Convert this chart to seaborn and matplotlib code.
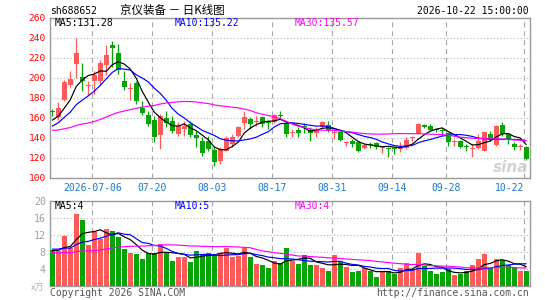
import numpy as np
import pandas as pd
import matplotlib
matplotlib.use("Agg")
import matplotlib.pyplot as plt
import seaborn as sns

# 80 daily sessions ending 2026-10-22
opens = [166, 161, 178, 193, 214, 201, 192, 197, 197, 213,
         233, 225, 197, 189, 195, 170, 163, 158, 143, 160,
         157, 144, 149, 154, 143, 137, 137, 128, 117, 127,
         134, 142, 155, 159, 156, 161, 156, 156, 163, 155,
         145, 148, 152, 148, 145, 151, 153, 145, 146, 135,
         137, 136, 130, 133.5, 135, 129.5, 130, 129.5, 129, 130,
         140, 145, 153, 152, 148.5, 148, 145, 135.5, 137, 131.5,
         128.5, 130, 127, 144, 133, 153, 144, 134, 131, 131]
highs = [169, 176, 198, 207, 240, 215, 197, 207, 218, 233,
         237, 234, 207, 195, 197, 177, 167, 162, 164, 167,
         162, 156, 157, 157, 147, 141, 142, 131, 131, 142,
         144, 152, 167, 161, 162, 162, 158, 164, 167, 157,
         149, 151, 155, 151, 151, 157, 157, 149, 147, 137,
         139, 137, 134, 136, 136, 132, 131, 131, 136, 141,
         142, 155, 154, 154, 150, 150, 146, 139, 138, 134,
         134, 144, 147, 147, 152.5, 156, 145, 136, 134, 132]
lows = [162, 158, 177, 191, 200, 187, 183, 184, 193, 203,
        211, 204, 188, 178, 174, 163, 152, 136, 129, 151,
        145, 142, 142, 141, 131, 122, 127, 112, 114, 127,
        131, 141, 149, 149, 152, 151, 149, 155, 159, 141,
        141, 141, 145, 137, 141, 150, 146, 139, 137, 132,
        131, 126, 129, 130, 129, 125, 121, 124, 126, 129,
        137, 144, 150, 147, 146, 143, 132, 132, 130, 127,
        121, 129, 127, 137, 132, 142, 134, 128, 128, 118]
closes = [165.5, 170, 196, 199, 225, 197, 193, 203, 215, 223,
          230, 208, 191, 190, 177, 165, 154, 141, 162, 155,
          147, 152, 152, 143, 140, 125, 129, 116, 129, 140,
          141, 151, 161, 154, 157, 154, 155, 163, 162, 144,
          146, 145, 151, 145, 149, 156, 148, 146, 138, 135.5,
          134, 127, 133, 133, 131, 130, 129, 129, 130, 138,
          140.5, 154, 151, 148, 148, 147, 136, 136, 131, 131,
          129, 137, 146, 139, 152, 144, 139, 131, 131.5, 119]
volume = [8.5, 8.3, 11.9, 9.1, 17.1, 15.6, 9.8, 12.8, 11.2, 13.5,
          13.1, 11.7, 8.7, 7.9, 7.7, 6.5, 7.9, 7.8, 10.0, 7.8,
          6.0, 7.0, 6.8, 5.8, 8.4, 7.4, 7.9, 7.3, 7.8, 9.1,
          6.8, 7.1, 9.1, 6.8, 5.3, 5.1, 4.3, 5.9, 5.5, 9.1,
          6.0, 5.3, 7.4, 5.1, 4.9, 4.4, 3.5, 7.4, 5.8, 4.5,
          3.3, 3.7, 4.3, 3.6, 2.3, 3.4, 3.7, 2.8, 4.2, 5.6,
          4.0, 7.9, 4.7, 3.5, 3.0, 3.3, 4.0, 2.6, 2.9, 3.5,
          4.9, 6.5, 7.7, 4.3, 6.5, 6.2, 5.0, 4.6, 3.7, 3.7]

# earlier sessions (not drawn), only used to warm up the moving averages
prev_close = [162, 158, 163, 160, 157, 161, 159,
              154, 150, 152, 147, 149, 148,
              138, 130, 124, 121, 118, 124, 128,
              136, 142, 147, 150, 152,
              150, 156, 157, 158]
prev_volume = [10.2, 9.6, 10.8, 9.9, 9.4, 10.5, 9.7,
               7.2, 6.5, 5.8, 6.1, 5.4, 5.9, 6.3, 5.5, 6.0, 5.7, 6.4, 6.8, 7.0,
               8.1, 9.6, 9.2, 8.4, 10.1, 8.0, 8.6, 7.9, 9.0]

tick_pos = [7, 17, 27, 37, 47, 57, 66, 79]
tick_labels = ["2026-07-06", "07-20", "08-03", "08-17", "08-31", "09-14", "09-28", "10-22"]

price_labels = ["MA5:131.28", "MA10:135.22", "MA30:135.57"]
vol_labels = ["MA5:4", "MA10:5", "MA30:4"]

RED = "#ff5a5a"
GREEN = "#06a406"
MA_COLORS = ["#000000", "#0000ff", "#ff00ff"]

sns.set_style("white")
plt.rcParams['font.family'] = ['DejaVu Sans Mono', 'Noto Sans CJK SC']

n = len(closes)
idx = np.arange(n)
o = np.array(opens); c = np.array(closes)
h = np.array(highs); l = np.array(lows)
up = c >= o
colors = np.where(up, RED, GREEN)

npv = len(prev_close)
close_all = pd.Series(prev_close + closes)
vol_all = pd.Series(prev_volume + volume)
price_ma = [close_all.rolling(w).mean().iloc[npv:].to_numpy() for w in (5, 10, 30)]
vol_ma = [vol_all.rolling(w).mean().iloc[npv:].to_numpy() for w in (5, 10, 30)]

W, H = 545, 300
fig = plt.figure(figsize=(W / 100, H / 100), dpi=100)
fig.patch.set_facecolor("white")


def px_axes(x0, y0, x1, y1):
    return fig.add_axes([x0 / W, 1 - y1 / H, (x1 - x0) / W, (y1 - y0) / H])


ax1 = px_axes(50, 17.5, 529.5, 177.5)
ax2 = px_axes(50, 201.3, 529.5, 286.3)

grid_x = [p - 0.33 for p in tick_pos]
for ax in (ax1, ax2):
    ax.set_xlim(-0.38, 79.55)
    ax.set_xticks(grid_x)
    ax.grid(axis="x", color="#a8a8a8", linestyle=(0, (4.5, 3.5)), lw=0.8)
    ax.grid(axis="y", color="#b4b4b4", linestyle=(0, (1, 2)), lw=0.8)
    ax.tick_params(length=0)
    for s in ax.spines.values():
        s.set_color("#9a9a9a")
        s.set_linewidth(1.0)
    ax.set_axisbelow(True)

# candles
ax1.vlines(idx, l, h, colors=colors, lw=0.9, zorder=2)
body_lo = np.minimum(o, c)
body_h = np.maximum(np.abs(c - o), 0.8)
ax1.bar(idx, body_h, bottom=body_lo, width=0.82, color=colors, lw=0, zorder=3)

for m, col in zip(price_ma, MA_COLORS):
    sns.lineplot(x=idx, y=m, color=col, lw=0.85, ax=ax1, zorder=4)

ax1.set_ylim(100, 260)
ax1.set_yticks(range(100, 261, 20))
ax1.set_yticklabels([str(v) for v in range(100, 261, 20)], color="#ff0000", fontsize=6.8)
ax1.tick_params(axis="y", pad=3)
ax1.set_xticklabels(tick_labels, color="#1a78d0", fontsize=7.0)
ax1.tick_params(axis="x", pad=4)
ax1.get_xticklabels()[-1].set_horizontalalignment("right")
ax1.set_xlabel(""); ax1.set_ylabel("")

# volume
ax2.bar(idx, volume, width=0.82, color=colors, lw=0, zorder=3)
for m, col in zip(vol_ma, MA_COLORS):
    sns.lineplot(x=idx, y=m, color=col, lw=0.85, ax=ax2, zorder=4)
ax2.set_ylim(0, 20)
ax2.set_yticks(range(0, 21, 4))
ax2.set_yticklabels(["", "4", "8", "12", "16", "20"], color="#a0a0a0", fontsize=7.2)
ax2.tick_params(axis="y", pad=3)
ax2.set_xticklabels([])
ax2.set_xlabel(""); ax2.set_ylabel("")


def ftext(x, y, s, **kw):
    fig.text(x / W, 1 - y / H, s, va="center", **kw)


ftext(50, 11, "sh688652", fontsize=7.0, color="black")
ftext(120, 10.5, "京仪装备 － 日K线图", fontsize=8.3, color="black",
      family=["Noto Sans CJK SC", "DejaVu Sans"])
ftext(529, 11.5, "2026-10-22 15:00:00", fontsize=7.0, color="black", ha="right")

for i, (s, col) in enumerate(zip(price_labels, MA_COLORS)):
    ftext(55 + 120 * i, 23.5, s, fontsize=7.0, color=col)
for i, (s, col) in enumerate(zip(vol_labels, MA_COLORS)):
    ftext(55 + 120 * i, 206, s, fontsize=7.0, color=col)

ftext(44, 288.5, "x万", fontsize=6.5, color="#b0b0b0", ha="right",
      family=["Noto Sans CJK SC", "DejaVu Sans"])
ftext(50, 293, "Copyright 2026 SINA.COM", fontsize=7.0, color="#555555")
ftext(529, 293, "http://finance.sina.com.cn", fontsize=7.0, color="#555555", ha="right")

# faint sina watermark
ftext(511, 167, "sina", fontsize=11, color="#c8c8c8", ha="center",
      family="DejaVu Sans", style="italic", fontweight="bold", alpha=0.8)

fig.savefig("out.png", dpi=100)
